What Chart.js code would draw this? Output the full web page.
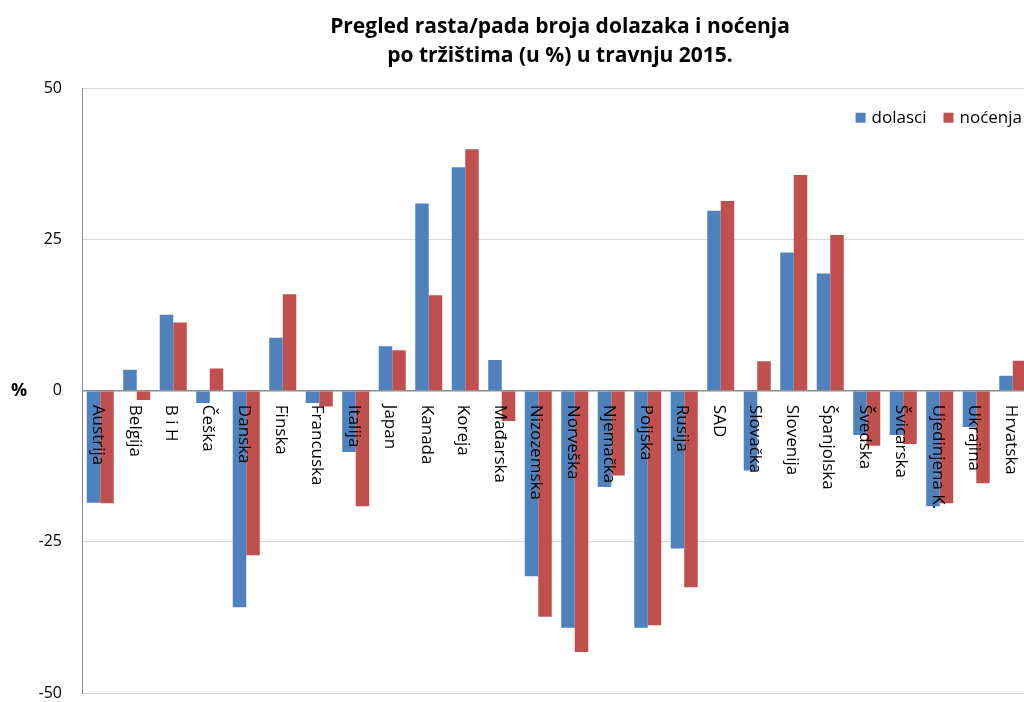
<!DOCTYPE html>
<html>
<head>
<meta charset="utf-8">
<script src="https://cdn.jsdelivr.net/npm/chart.js@4/dist/chart.umd.min.js"></script>
<style>
  html, body { margin: 0; padding: 0; background: #fff; overflow: hidden; }
  #outer { width: 1024px; height: 702px; overflow: hidden; }
  canvas { display: block; }
</style>
</head>
<body>
<div id="outer"><canvas id="grafikon" width="1120" height="702" style="width:1120px;height:702px"></canvas></div>
<script>
const trzista = ["Austrija", "Belgija", "B i H", "Češka", "Danska", "Finska", "Francuska", "Italija",
  "Japan", "Kanada", "Koreja", "Mađarska", "Nizozemska", "Norveška", "Njemačka", "Poljska", "Rusija",
  "SAD", "Slovačka", "Slovenija", "Španjolska", "Švedska", "Švicarska", "Ujedinjena K.", "Ukrajina", "Hrvatska"];
const dolasci = [-18.5, 3.5, 12.6, -2.0, -35.8, 8.8, -2.0, -10.1, 7.4, 31.0, 37.0, 5.1, -30.7, -39.2, -15.9,
  -39.2, -26.1, 29.8, -13.2, 22.9, 19.4, -7.3, -7.3, -19.1, -6.0, 2.5];
const nocenja = [-18.6, -1.5, 11.3, 3.7, -27.2, 16.0, -2.6, -19.1, 6.7, 15.8, 40.0, -5.0, -37.4, -43.2, -14.0,
  -38.8, -32.5, 31.4, 4.9, 35.7, 25.8, -9.1, -8.8, -18.6, -15.3, 5.0];
const yTicks = [-50, -25, 0, 25, 50];

const plavo = "#4F81BD";
const crveno = "#C0504D";
const font = "'Open Sans', 'DejaVu Sans', sans-serif";

// labels drawn vertically from the zero line, the "%" on the left and the legend
const oznake = {
  id: "oznake",
  afterDatasetsDraw(chart) {
    const ctx = chart.ctx;
    const x = chart.scales.x, y = chart.scales.y;
    const y0 = y.getPixelForValue(0);
    ctx.save();
    ctx.fillStyle = "#000";
    ctx.font = "17px " + font;
    ctx.textAlign = "left";
    ctx.textBaseline = "middle";
    trzista.forEach((t, i) => {
      ctx.save();
      ctx.translate(x.getPixelForValue(i) - 2, y0 + 14);
      ctx.rotate(Math.PI / 2);
      ctx.fillText(t, 0, 0);
      ctx.restore();
    });

    // legend, top right inside the plot
    const ds = chart.data.datasets;
    let lx = chart.chartArea.right - 9;
    const ly = chart.chartArea.top + 29;
    for (let k = ds.length - 1; k >= 0; k--) {
      const w = ctx.measureText(ds[k].label).width;
      lx -= w;
      ctx.fillStyle = "#000";
      ctx.fillText(ds[k].label, lx, ly);
      lx -= 16;
      ctx.fillStyle = ds[k].backgroundColor;
      ctx.fillRect(lx, ly - 5, 10, 10);
      lx -= 17;
    }

    ctx.fillStyle = "#000";
    ctx.font = "bold 18px " + font;
    ctx.fillText("%", 11, y0);
    ctx.restore();
  }
};

new Chart(document.getElementById("grafikon"), {
  type: "bar",
  data: {
    labels: trzista,
    datasets: [
      { label: "dolasci", data: dolasci, backgroundColor: plavo, borderWidth: 0 },
      { label: "noćenja", data: nocenja, backgroundColor: crveno, borderWidth: 0 }
    ]
  },
  options: {
    responsive: false,
    animation: false,
    layout: { padding: { left: 0, right: 0, bottom: 9, top: 0 } },
    datasets: { bar: { categoryPercentage: 0.74, barPercentage: 1.0 } },
    scales: {
      x: {
        offset: true,
        ticks: { display: false },
        grid: { display: false, drawTicks: false },
        border: { display: false },
        afterFit: s => { s.height = 0; s.paddingLeft = 0; s.paddingRight = 0; }
      },
      y: {
        min: -50, max: 50,
        afterBuildTicks: s => { s.ticks = yTicks.map(v => ({ value: v })); },
        afterFit: s => { s.width = 82; s.paddingTop = 0; s.paddingBottom = 0; },
        ticks: { color: "#000", font: { size: 16, family: font }, padding: 20 },
        grid: {
          drawTicks: false,
          color: c => c.tick && c.tick.value === 0 ? "#8c8c8c" : "#d9d9d9",
          lineWidth: c => c.tick && c.tick.value === 0 ? 1.5 : 1
        },
        border: { color: "#8c8c8c" }
      },
      // empty right axis, only keeps the room to the right of the plot
      desno: {
        position: "right",
        min: -50, max: 50,
        ticks: { display: false },
        grid: { display: false, drawTicks: false },
        border: { display: false },
        afterFit: s => { s.width = 89; s.paddingTop = 0; s.paddingBottom = 0; }
      }
    },
    plugins: {
      title: {
        display: true,
        text: ["Pregled rasta/pada broja dolazaka i noćenja", "po tržištima (u %) u travnju 2015."],
        color: "#000",
        font: { size: 21, weight: "bold", family: font, lineHeight: 1.35 },
        padding: { top: 13, bottom: 19 }
      },
      legend: { display: false },
      tooltip: { enabled: false }
    }
  },
  plugins: [oznake]
});
</script>
</body>
</html>
